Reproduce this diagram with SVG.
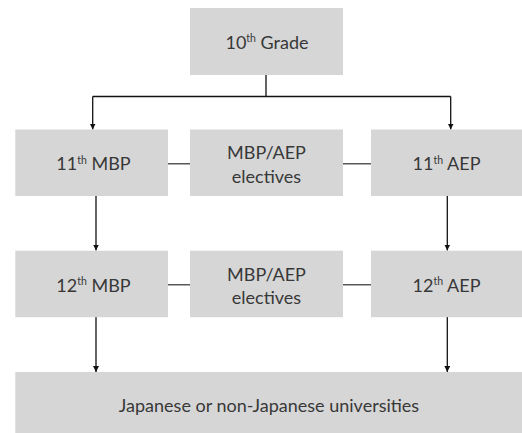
<svg xmlns="http://www.w3.org/2000/svg" width="522" height="433" viewBox="0 0 522 433">
<defs>
<style>
.box{fill:#d6d6d6}
.t{font-family:Lato,"Open Sans","Liberation Sans",sans-serif;font-size:18px;fill:#383838;text-anchor:middle}
.sup{font-size:10.5px}
.arr{stroke:#111;stroke-width:1.3;fill:none;marker-end:url(#ah)}
.ln{stroke:#111;stroke-width:1.3;fill:none}
.link{stroke:#595959;stroke-width:1.6;fill:none}
</style>
<marker id="ah" viewBox="0 0 6 6" refX="6" refY="3" markerWidth="6" markerHeight="6" markerUnits="userSpaceOnUse" orient="auto">
<path d="M0,0 L6,3 L0,6 Z" fill="#111"/>
</marker>
</defs>
<rect width="522" height="433" fill="#fff"/>
<g id="connectors">
<path class="ln" d="M266,75 V96.5 M92.7,96.5 H450.7"/>
<path class="arr" d="M92.7,96.5 V129.5"/>
<path class="arr" d="M450.7,96.5 V129.5"/>
<path class="arr" d="M96,196 V250.5"/>
<path class="arr" d="M447.3,196 V250.5"/>
<path class="arr" d="M96,317 V372"/>
<path class="arr" d="M447.3,317 V372"/>
<path class="link" d="M168,163.7 H190 M343,163.7 H371"/>
<path class="link" d="M168,284.7 H190 M343,284.7 H371"/>
</g>
<g id="n10">
<rect class="box" x="190" y="8" width="153" height="67"/>
<text class="t" x="267" y="48.5">10<tspan class="sup" dy="-6.5">th</tspan><tspan dy="6.5"> Grade</tspan></text>
</g>
<g id="n11mbp">
<rect class="box" x="15.3" y="129.5" width="152.7" height="66.5"/>
<text class="t" x="93.5" y="170">11<tspan class="sup" dy="-6.5">th</tspan><tspan dy="6.5"> MBP</tspan></text>
</g>
<g id="nel1">
<rect class="box" x="190" y="129.5" width="153" height="66.5"/>
<text class="t" x="266.5" y="159">MBP/AEP</text>
<text class="t" x="266.5" y="182.5">electives</text>
</g>
<g id="n11aep">
<rect class="box" x="371" y="129.5" width="151" height="66.5"/>
<text class="t" x="446.5" y="170">11<tspan class="sup" dy="-6.5">th</tspan><tspan dy="6.5"> AEP</tspan></text>
</g>
<g id="n12mbp">
<rect class="box" x="15.3" y="250.7" width="152.7" height="66.5"/>
<text class="t" x="93.5" y="291.5">12<tspan class="sup" dy="-6.5">th</tspan><tspan dy="6.5"> MBP</tspan></text>
</g>
<g id="nel2">
<rect class="box" x="190" y="250.7" width="153" height="66.5"/>
<text class="t" x="266.5" y="280.5">MBP/AEP</text>
<text class="t" x="266.5" y="303.5">electives</text>
</g>
<g id="n12aep">
<rect class="box" x="371" y="250.7" width="151" height="66.5"/>
<text class="t" x="446.5" y="291.5">12<tspan class="sup" dy="-6.5">th</tspan><tspan dy="6.5"> AEP</tspan></text>
</g>
<g id="nuni">
<rect class="box" x="15.3" y="372" width="506.7" height="61"/>
<text class="t" x="269" y="411.5">Japanese or non-Japanese universities</text>
</g>
</svg>
